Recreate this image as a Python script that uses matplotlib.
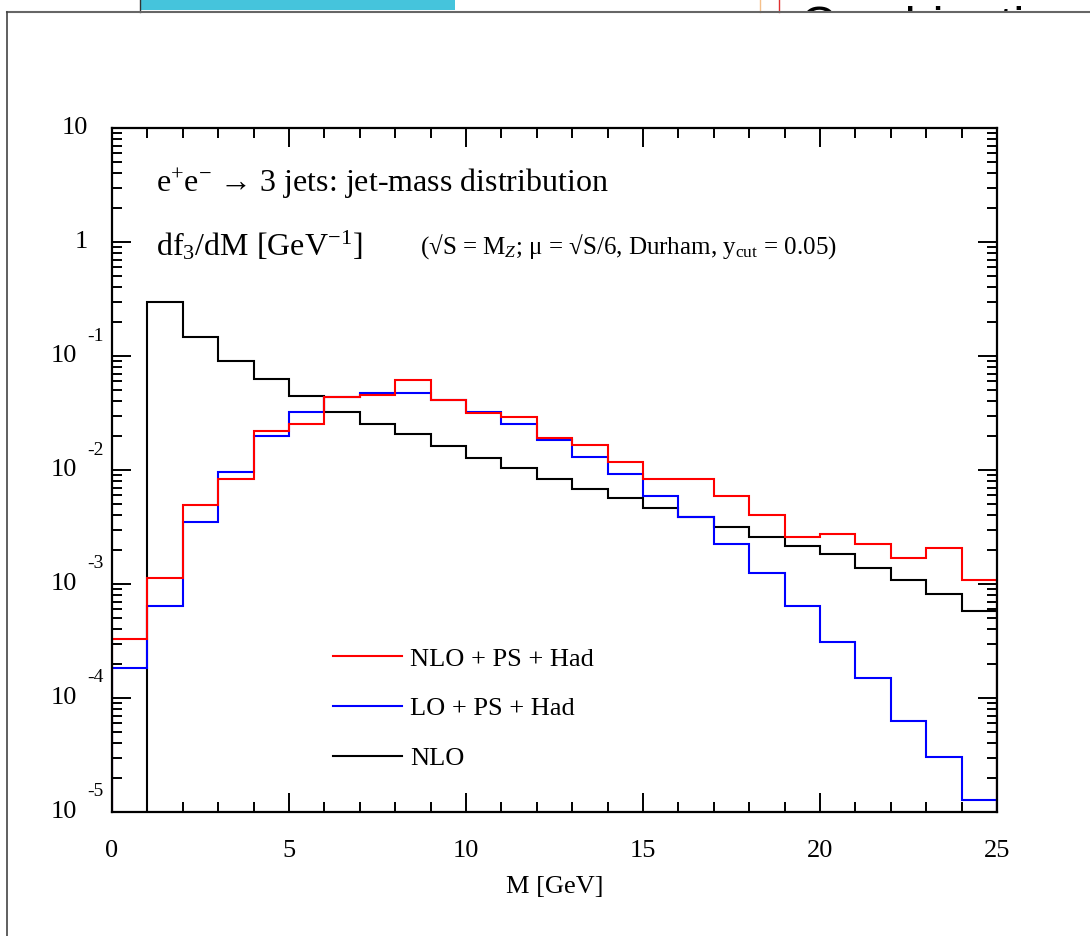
import numpy as np
import matplotlib
matplotlib.use('Agg')
import matplotlib.pyplot as plt
import matplotlib.transforms as mtransforms
from matplotlib.patches import Rectangle
from matplotlib.lines import Line2D
from matplotlib.ticker import FixedLocator, LogLocator, MultipleLocator, NullFormatter

plt.rcParams['font.family'] = ['Liberation Serif', 'DejaVu Serif']
plt.rcParams['mathtext.fontset'] = 'custom'
plt.rcParams['mathtext.rm'] = 'Liberation Serif'
plt.rcParams['mathtext.it'] = 'Liberation Serif:italic'

# Bordes de los bins de masa (GeV)
bordes = np.arange(0, 26)

# NLO + PS + Had (rojo)
nlo_ps_had = [3.3e-4, 1.13e-3, 4.9e-3, 8.3e-3, 0.022, 0.0253, 0.044, 0.0455, 0.061, 0.041,
              0.0314, 0.0294, 0.019, 0.0165, 0.0117, 8.4e-3, 8.3e-3, 5.96e-3, 4.03e-3, 2.6e-3,
              2.75e-3, 2.25e-3, 1.68e-3, 2.06e-3, 1.09e-3]

# LO + PS + Had (azul)
lo_ps_had = [1.82e-4, 6.46e-4, 3.47e-3, 9.55e-3, 0.020, 0.032, 0.044, 0.0478, 0.0478, 0.041,
             0.0323, 0.0253, 0.0183, 0.0129, 9.16e-3, 5.96e-3, 3.86e-3, 2.25e-3, 1.25e-3, 6.4e-4,
             3.1e-4, 1.5e-4, 6.3e-5, 3.05e-5, 1.27e-5]

# NLO (negro); el primer bin esta vacio
nlo = [0.0, 0.30, 0.146, 0.090, 0.063, 0.045, 0.032, 0.0253, 0.0209, 0.0163,
       0.0128, 0.0105, 8.3e-3, 6.85e-3, 5.68e-3, 4.68e-3, 3.86e-3, 3.15e-3, 2.6e-3, 2.14e-3,
       1.85e-3, 1.38e-3, 1.08e-3, 8.1e-4, 5.8e-4]

y_ticks = [1e-5, 1e-4, 1e-3, 1e-2, 1e-1, 1, 10]
y_base = ['10', '10', '10', '10', '10', '1', '10']
y_exp = ['-5', '-4', '-3', '-2', '-1', '', '']

W, H = 1090, 936
fig = plt.figure(figsize=(W / 100, H / 100), dpi=100)

# restos de la diapositiva alrededor de la figura
franja = fig.add_axes([0, 1 - 12 / H, 1, 12 / H])
franja.set_axis_off()
franja.set_xlim(0, W)
franja.set_ylim(12, 0)
franja.text(800, 6, 'Combination', fontsize=36, family='Liberation Sans', va='top', ha='left', clip_on=True)
fig.patches.append(Rectangle((140 / W, 1 - 10 / H), 315 / W, 10 / H, transform=fig.transFigure,
                             facecolor='#45c4dc', edgecolor='none'))
fig.lines.append(Line2D([140 / W, 140 / W], [1 - 12 / H, 1], transform=fig.transFigure, color='#333333', lw=1))
fig.lines.append(Line2D([760 / W, 760 / W], [1 - 12 / H, 1], transform=fig.transFigure, color='#f5c08a', lw=1))
fig.lines.append(Line2D([779 / W, 779 / W], [1 - 12 / H, 1], transform=fig.transFigure, color='#e03030', lw=1))
fig.lines.append(Line2D([7 / W, 1], [1 - 12 / H, 1 - 12 / H], transform=fig.transFigure, color='#666666', lw=1.5))
fig.lines.append(Line2D([7 / W, 7 / W], [0, 1 - 12 / H], transform=fig.transFigure, color='#444444', lw=1.2))

ax = fig.add_axes([112 / W, 1 - 812 / H, 885 / W, 684 / H])

ax.stairs(nlo, bordes, color='black', lw=1.5, label='NLO')
ax.stairs(lo_ps_had, bordes, color='#0000ff', lw=1.5, label='LO + PS + Had')
ax.stairs(nlo_ps_had, bordes, color='#ff0000', lw=1.5, label='NLO + PS + Had')

ax.set_yscale('log')
ax.set_xlim(0, 25)
ax.set_ylim(1e-5, 10)

ax.xaxis.set_major_locator(MultipleLocator(5))
ax.xaxis.set_minor_locator(MultipleLocator(1))
ax.yaxis.set_major_locator(FixedLocator(y_ticks))
ax.yaxis.set_minor_locator(LogLocator(base=10, subs=np.arange(2, 10)))
ax.yaxis.set_minor_formatter(NullFormatter())
ax.yaxis.set_major_formatter(NullFormatter())

ax.tick_params(which='both', direction='in', top=True, right=True, width=1.4, labelsize=19)
ax.tick_params(which='major', length=14)
ax.tick_params(which='minor', length=7)
ax.tick_params(axis='x', which='major', pad=20)
for s in ax.spines.values():
    s.set_linewidth(1.6)

# etiquetas del eje y estilo "10" con exponente separado
trans_y = mtransforms.blended_transform_factory(ax.transAxes, ax.transData)
for v, b, e in zip(y_ticks, y_base, y_exp):
    if e:
        ax.text(-0.039, v, b, transform=trans_y, ha='right', va='center', fontsize=19)
        sup = trans_y + mtransforms.ScaledTranslation(0, 20 / 100, fig.dpi_scale_trans)
        ax.text(-0.028, v, e, transform=sup, ha='left', va='center', fontsize=14)
    else:
        ax.text(-0.027, v, b, transform=trans_y, ha='right', va='center', fontsize=19)

ax.set_xlabel('M [GeV]', fontsize=19, labelpad=10)

ax.text(0.05, 0.906, r'e$^{+}$e$^{-}$ → 3 jets: jet-mass distribution', transform=ax.transAxes, fontsize=23)
ax.text(0.05, 0.814, r'df$_{3}$/dM [GeV$^{-1}$]', transform=ax.transAxes, fontsize=23)
ax.text(0.348, 0.816, r'(√S = M$_{Z}$; μ = √S/6, Durham, y$_{\rm cut}$ = 0.05)', transform=ax.transAxes, fontsize=18)

handles, labels = ax.get_legend_handles_labels()
ax.legend(handles[::-1], labels[::-1], loc='center left', bbox_to_anchor=(0.25, 0.151), frameon=False,
          fontsize=19, handlelength=2.6, handletextpad=0.3, labelspacing=1.0, borderpad=0, borderaxespad=0)

fig.savefig('out.png', dpi=100)
